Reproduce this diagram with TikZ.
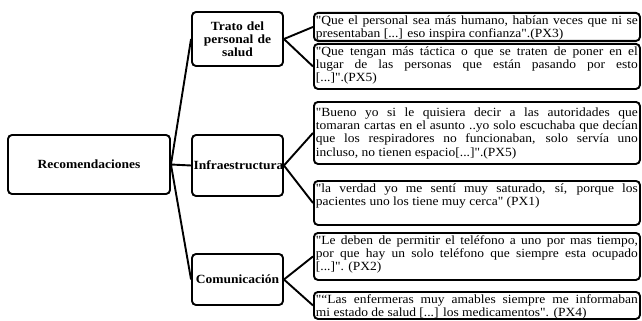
\documentclass[tikz,border=0pt]{standalone}
\usepackage{fontspec}
\setmainfont{Liberation Serif}[FakeStretch=1.08, Ligatures=TeXOff]
\usetikzlibrary{positioning}
\hbadness=10000
\hfuzz=20pt

\begin{document}
\begin{tikzpicture}[x=1pt, y=-1pt,
    catbox/.style={rectangle, draw, line width=1.9pt, rounded corners=4pt, font=\fontsize{12.5}{13.2}\selectfont\bfseries, text width=88pt, align=center, inner sep=0pt, minimum width=91pt},
    quotebox/.style={rectangle, draw, line width=1.9pt, rounded corners=4pt, font=\fontsize{12.5}{13.2}\selectfont, text width=322pt, align=justify, inner xsep=2pt, inner ysep=1.5pt, anchor=north west, text height=10pt},
    link/.style={line width=1.9pt}]
    \useasboundingbox (0,0) rectangle (642,321);

    % Root
    \node[catbox, text width=150pt, minimum width=162pt, minimum height=59pt] (recom) at (89,164.5) {Recomendaciones};

    % Categories
    \node[catbox, minimum height=54pt] (trato) at (237.5,39) {Trato del\\personal de\\salud};
    \node[catbox, minimum height=61pt] (infra) at (237.5,165.5) {Infraestructura};
    \node[catbox, minimum height=51pt] (comun) at (237.5,279.5) {Comunicación};

    % Quotes
    \node[quotebox, text depth=15pt] (q1) at (313,12) {"Que el personal sea más humano, habían veces que ni se \linebreak{} presentaban [...] eso inspira confianza".(PX3)};
    \node[quotebox, text depth=32pt] (q2) at (313,43) {"Que tengan más táctica o que se traten de poner en el \linebreak{} lugar de las personas que están pasando por esto \linebreak{} [...]".(PX5)};
    \node[quotebox, text height=13pt, text depth=46pt] (q3) at (313,101) {"Bueno yo si le quisiera decir a las autoridades que \linebreak{} tomaran cartas en el asunto ..yo solo escuchaba que decían \linebreak{} que los respiradores no funcionaban, solo servía uno \linebreak{} incluso, no tienen espacio[...]".(PX5)};
    \node[quotebox, text depth=31pt] (q4) at (313,180) {"la verdad yo me sentí muy saturado, sí, porque los \linebreak{} pacientes uno los tiene muy cerca" (PX1)};
    \node[quotebox, text depth=34pt] (q5) at (313,232) {"Le deben de permitir el teléfono a uno por mas tiempo, \linebreak{} por que hay un solo teléfono que siempre esta ocupado \linebreak{} [...]". (PX2)};
    \node[quotebox, text depth=14pt] (q6) at (313,291) {"“Las enfermeras muy amables siempre me informaban \linebreak{} mi estado de salud [...] los medicamentos". (PX4)};

    % Connectors
    \draw[link] (recom.east) -- (trato.west);
    \draw[link] (recom.east) -- (infra.west);
    \draw[link] (recom.east) -- (comun.west);
    \draw[link] (trato.east) -- (q1.west);
    \draw[link] (trato.east) -- (q2.west);
    \draw[link] (infra.east) -- (q3.west);
    \draw[link] (infra.east) -- (q4.west);
    \draw[link] (comun.east) -- (q5.west);
    \draw[link] (comun.east) -- (q6.west);
\end{tikzpicture}
\end{document}
